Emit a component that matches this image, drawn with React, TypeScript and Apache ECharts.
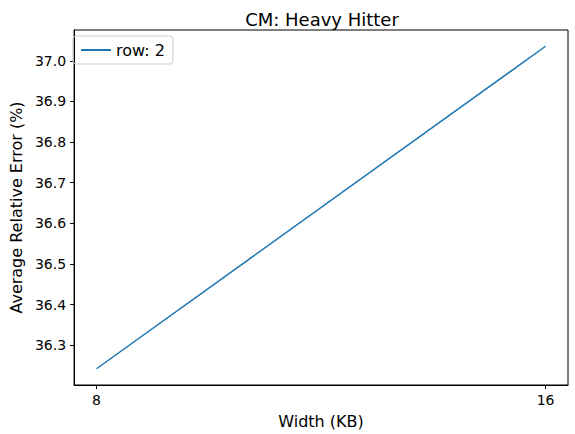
import { useEffect, useRef } from "react";
import * as echarts from "echarts";

const widths = [8, 16];
const errors = [36.242, 37.036];
const xTicks = [8, 16];
const yTicks = [36.3, 36.4, 36.5, 36.6, 36.7, 36.8, 36.9, 37.0];

const App = () => {
  const chartRef = useRef<HTMLDivElement>(null);

  useEffect(() => {
    if (!chartRef.current) return;
    const chart = echarts.init(chartRef.current, null, { renderer: "svg" });
    const font = "DejaVu Sans";
    chart.setOption({
      animation: false,
      textStyle: { fontFamily: font },
      title: {
        text: "CM: Heavy Hitter",
        left: 317,
        top: 5,
        textAlign: "center",
        textStyle: { fontSize: 18, fontWeight: "normal", color: "#000", fontFamily: font },
      },
      legend: {
        left: 73,
        top: 36,
        data: ["row: 2"],
        icon: "path://M0,0 L30,0 L30,2 L0,2 Z",
        itemWidth: 30,
        itemHeight: 2,
        padding: [6, 8],
        borderColor: "#ccc",
        borderWidth: 1,
        borderRadius: 3,
        textStyle: { fontSize: 16, color: "#000", fontFamily: font },
      },
      grid: {
        left: 67, right: 7, top: 30, bottom: 47,
        show: true, borderColor: "#000", borderWidth: 1,
      },
      xAxis: {
        type: "value",
        min: 7.6,
        max: 16.4,
        name: "Width (KB)",
        nameLocation: "middle",
        nameGap: 28,
        nameTextStyle: { fontSize: 16, color: "#000" },
        axisLine: { show: true, lineStyle: { color: "#000" } },
        axisTick: { show: true, customValues: xTicks, length: 4, lineStyle: { color: "#000" } },
        axisLabel: { customValues: xTicks, fontSize: 14, color: "#000" },
        splitLine: { show: false },
      },
      yAxis: {
        type: "value",
        min: 36.202,
        max: 37.076,
        name: "Average Relative Error (%)",
        nameLocation: "middle",
        nameGap: 48,
        nameTextStyle: { fontSize: 16, color: "#000" },
        axisLine: { show: true, lineStyle: { color: "#000" } },
        axisTick: { show: true, customValues: yTicks, length: 4, lineStyle: { color: "#000" } },
        axisLabel: {
          customValues: yTicks,
          fontSize: 14,
          color: "#000",
          formatter: (v: number) => v.toFixed(1),
        },
        splitLine: { show: false },
      },
      series: [
        {
          name: "row: 2",
          type: "line",
          data: widths.map((w, i) => [w, errors[i]]),
          showSymbol: false,
          lineStyle: { color: "#1f77b4", width: 1.5 },
          itemStyle: { color: "#1f77b4" },
        },
      ],
    });
    return () => chart.dispose();
  }, []);

  return (
    <div
      ref={chartRef}
      style={{ position: "absolute", left: 0, top: 0, width: 575, height: 434, background: "#fff" }}
    />
  );
};

export default App;
